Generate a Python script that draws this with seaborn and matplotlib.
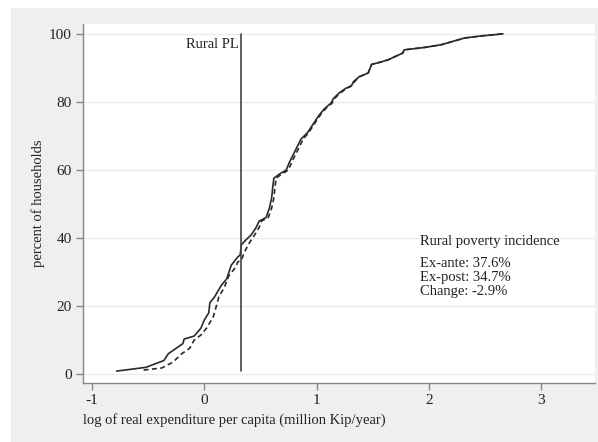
import pandas as pd
import matplotlib.pyplot as plt
import seaborn as sns
from matplotlib.patches import Rectangle

# CDF of log real expenditure per capita, ex-ante (solid) and ex-post (dashed)
ante_x = [-0.78, -0.52, -0.36, -0.32, -0.25, -0.19, -0.18, -0.09, -0.03, 0.00,
          0.04, 0.05, 0.09, 0.15, 0.20, 0.24, 0.30, 0.32, 0.33, 0.37, 0.42, 0.46,
          0.49, 0.55, 0.58, 0.60, 0.61, 0.62, 0.67, 0.73, 0.76, 0.80, 0.86, 0.92,
          0.98, 1.02, 1.07, 1.13, 1.15, 1.20, 1.26, 1.31, 1.33, 1.38, 1.46, 1.49,
          1.58, 1.64, 1.73, 1.77, 1.78, 1.96, 2.11, 2.32, 2.47, 2.66]
ante_y = [0.9, 2, 4, 6, 7.6, 9, 10.3, 11.2, 13.5, 15.9, 18, 21, 22.6, 26, 28, 32,
          34.5, 35, 38, 39.4, 41, 43, 45, 46, 48.8, 51.8, 55, 57.6, 58.8, 60, 62.4,
          65, 69, 71, 74, 76, 78, 79.7, 81, 82.6, 84, 84.7, 86, 87.4, 88.5, 91,
          91.8, 92.4, 93.8, 94.4, 95.3, 96, 96.8, 98.8, 99.4, 100]

post_x = [-0.54, -0.38, -0.28, -0.20, -0.13, -0.09, -0.03, 0.02, 0.08, 0.11,
          0.13, 0.18, 0.22, 0.27, 0.30, 0.33, 0.36, 0.40, 0.45, 0.49, 0.51, 0.57,
          0.60, 0.62, 0.63, 0.64, 0.69, 0.75, 0.78, 0.82, 0.88, 0.93, 0.99, 1.03,
          1.08, 1.14, 1.16, 1.21, 1.27, 1.31, 1.34, 1.38, 1.46, 1.49, 1.58, 1.64,
          1.73, 1.77, 1.78, 1.96, 2.11, 2.32, 2.47, 2.66]
post_y = [1.2, 1.8, 3.5, 6, 7.6, 10, 11.5, 13.5, 16.8, 20.3, 22.7, 25.6, 29, 31,
          33, 33.5, 36, 38.5, 41, 43.2, 45, 46, 48.8, 51.8, 55, 57.6, 58.8, 60,
          62.4, 65, 69, 71, 74, 76, 78, 79.7, 81, 82.6, 84, 84.7, 86, 87.4, 88.5,
          91, 91.8, 92.4, 93.8, 94.4, 95.3, 96, 96.8, 98.8, 99.4, 100]

poverty_line = 0.33
notes = ["Ex-ante: 37.6%", "Ex-post: 34.7%", "Change: -2.9%"]

sns.set_style("white")
plt.rcParams['font.family'] = ['Liberation Serif', 'DejaVu Serif']
plt.rcParams['font.size'] = 10.5
plt.rcParams['axes.unicode_minus'] = False

fig = plt.figure(figsize=(5.98, 4.42), dpi=100, facecolor='white')
fig.patches.append(Rectangle((11 / 598, 0), 1, 1 - 8 / 442, transform=fig.transFigure,
                             facecolor='#efefef', edgecolor='none', zorder=-10))
ax = fig.add_axes([83 / 598, 1 - 383 / 442, 512 / 598, 359 / 442])
ax.set_facecolor('white')

sns.lineplot(x=ante_x, y=ante_y, sort=False, estimator=None, color='#2a2a2a',
             linewidth=1.2, ax=ax)
sns.lineplot(x=post_x, y=post_y, sort=False, estimator=None, color='#2a2a2a',
             linewidth=1.2, dashes=False, ax=ax).lines[-1].set_dashes((3, 2))

ax.axvline(poverty_line, ymin=(1 + 2.6) / 105.5, ymax=(100 + 2.6) / 105.5,
           color='#444444', linewidth=1.2)
ax.text(poverty_line - 0.02, 96.8, "Rural PL", ha='right', va='center',
        fontsize=10.5, color='#222222')

ax.text(1.92, 39, "Rural poverty incidence", ha='left', va='center',
        fontsize=10.5, color='#222222')
for i, note in enumerate(notes):
    ax.text(1.92, 32.6 - i * 4.1, note, ha='left', va='center',
            fontsize=10.5, color='#222222')

ax.set_xlim(-1.08, 3.48)
ax.set_ylim(-2.6, 102.9)
ax.set_xticks([-1, 0, 1, 2, 3])
ax.set_yticks([0, 20, 40, 60, 80, 100])
ax.yaxis.grid(True, color='#ebebeb', linewidth=1)
ax.set_axisbelow(True)

for side in ['top', 'right']:
    ax.spines[side].set_visible(False)
for side in ['left', 'bottom']:
    ax.spines[side].set_color('#888888')
    ax.spines[side].set_linewidth(1)
ax.tick_params(axis='both', direction='out', length=5, width=1, color='#888888',
               labelsize=11, labelcolor='#222222', bottom=True, left=True, pad=3)

ax.set_xlabel("log of real expenditure per capita (million Kip/year)", fontsize=10.5,
              color='#222222', loc='left', labelpad=4)
ax.set_ylabel("percent of households", fontsize=10.5, color='#222222', labelpad=3)

fig.savefig("out.png", dpi=100, facecolor=fig.get_facecolor())
